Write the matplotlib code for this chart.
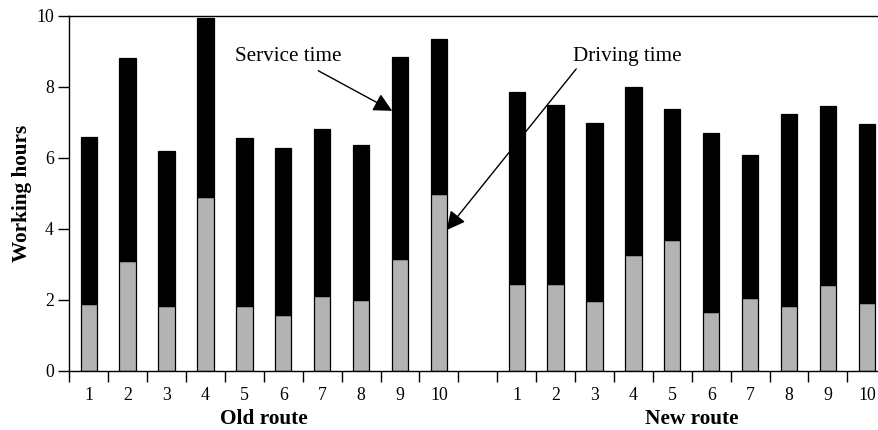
import matplotlib
matplotlib.use("Agg")
import matplotlib.pyplot as plt
import numpy as np

# Data
labels = ["1", "2", "3", "4", "5", "6", "7", "8", "9", "10", "",
          "1", "2", "3", "4", "5", "6", "7", "8", "9", "10"]
old_total = [6.59, 8.80, 6.19, 9.93, 6.55, 6.27, 6.82, 6.37, 8.84, 9.34]
old_driving = [1.88, 3.08, 1.83, 4.89, 1.83, 1.56, 2.10, 2.00, 3.14, 4.98]
new_total = [7.85, 7.49, 6.99, 7.98, 7.36, 6.69, 6.08, 7.22, 7.45, 6.95]
new_driving = [2.45, 2.45, 1.96, 3.27, 3.68, 1.64, 2.06, 1.83, 2.41, 1.92]
group_names = ["Old route", "New route"]

driving = old_driving + [np.nan] + new_driving
total = old_total + [np.nan] + new_total
service = [t - d for t, d in zip(total, driving)]

plt.rcParams['font.family'] = ['Liberation Serif', 'DejaVu Serif']

fig = plt.figure(figsize=(8.79, 4.30), dpi=100)
ax = fig.add_axes([0.0788, 0.138, 0.9202, 0.8255])

x = np.arange(len(labels))
w = 0.42
ax.bar(x, driving, width=w, color="#b3b3b3", edgecolor="black", linewidth=0.9)
ax.bar(x, service, width=w, bottom=driving, color="black", edgecolor="black", linewidth=0.9)

ax.set_ylim(0, 10)
ax.set_xlim(-0.5, 20.29)
ax.set_yticks([0, 2, 4, 6, 8, 10])
ax.tick_params(axis='y', direction='out', length=8, width=1, labelsize=12.8, pad=3)

ax.set_xticks(np.arange(-0.5, 20.0, 1.0))
ax.set_xticklabels([])
ax.tick_params(axis='x', which='major', direction='out', length=8, width=1)
ax.set_xticks(x, minor=True)
ax.set_xticklabels(labels, minor=True)
ax.tick_params(axis='x', which='minor', length=0, labelsize=12.8, pad=11.5)

for s in ['right']:
    ax.spines[s].set_visible(False)
for s in ['left', 'bottom', 'top']:
    ax.spines[s].set_linewidth(1)

ax.set_ylabel("Working hours", fontsize=15.3, fontweight='bold', labelpad=3)

trans = matplotlib.transforms.blended_transform_factory(ax.transData, ax.transAxes)
ax.text(4.5, -0.137, group_names[0], transform=trans, ha='center', va='center',
        fontsize=15.3, fontweight='bold')
ax.text(15.5, -0.137, group_names[1], transform=trans, ha='center', va='center',
        fontsize=15.3, fontweight='bold')

aprops = dict(arrowstyle='-|>,head_length=0.75,head_width=0.38', mutation_scale=15,
              color='black', lw=1, shrinkA=0, shrinkB=0)
ax.text(3.77, 8.84, "Service time", fontsize=15.2, ha='left', va='center')
ax.annotate("", xy=(7.8, 7.32), xytext=(5.9, 8.45), arrowprops=aprops)
ax.text(12.45, 8.84, "Driving time", fontsize=15.2, ha='left', va='center')
ax.annotate("", xy=(9.2, 3.96), xytext=(12.53, 8.50), arrowprops=aprops)

fig.savefig("out.png", dpi=100)
